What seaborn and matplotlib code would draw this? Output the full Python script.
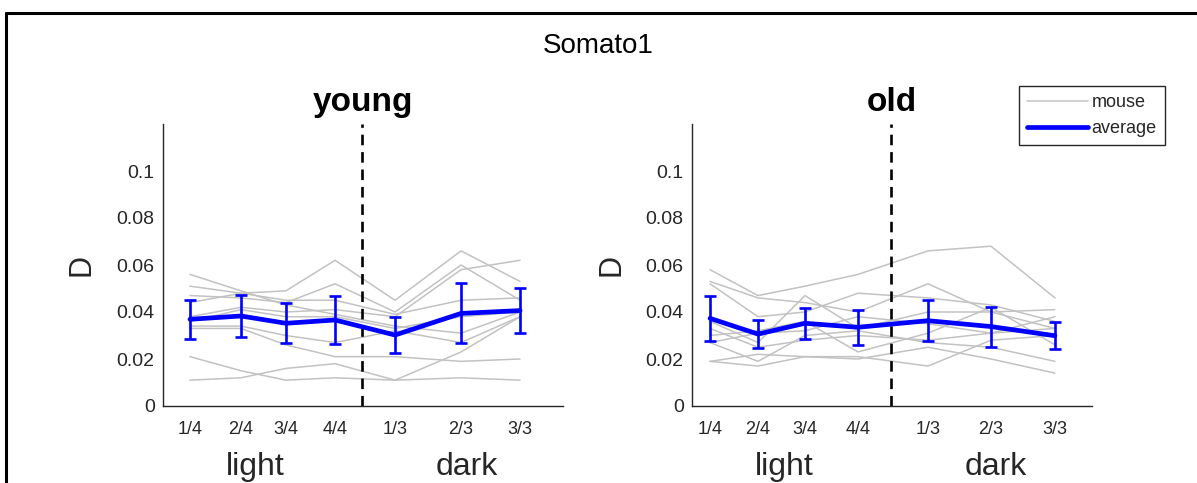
import numpy as np
import pandas as pd
import matplotlib
matplotlib.use("Agg")
import matplotlib.pyplot as plt
import seaborn as sns
from matplotlib.lines import Line2D

# ---------------- data ----------------
bin_labels = ["1/4", "2/4", "3/4", "4/4", "1/3", "2/3", "3/3"]
young_x = [1.66, 4.80, 7.56, 10.58, 14.27, 18.33, 21.96]
old_x = [1.11, 4.06, 6.95, 10.21, 14.51, 18.39, 22.32]
boundary = 12.24

young_mean = [0.0369, 0.0383, 0.0352, 0.0366, 0.0302, 0.0394, 0.0406]
young_err = [0.0082, 0.0088, 0.0086, 0.0102, 0.0078, 0.0128, 0.0097]
old_mean = [0.0373, 0.0306, 0.0352, 0.0335, 0.0363, 0.0338, 0.0299]
old_err = [0.0096, 0.0058, 0.0065, 0.0074, 0.0087, 0.0085, 0.0058]

young_mice = [
    [0.056, 0.049, 0.043, 0.039, 0.034, 0.031, 0.040],
    [0.051, 0.048, 0.049, 0.062, 0.045, 0.066, 0.053],
    [0.047, 0.046, 0.044, 0.052, 0.040, 0.060, 0.045],
    [0.044, 0.048, 0.045, 0.045, 0.039, 0.045, 0.046],
    [0.038, 0.042, 0.040, 0.041, 0.038, 0.058, 0.062],
    [0.036, 0.041, 0.038, 0.038, 0.033, 0.038, 0.040],
    [0.034, 0.034, 0.030, 0.027, 0.032, 0.027, 0.038],
    [0.033, 0.033, 0.026, 0.021, 0.021, 0.019, 0.020],
    [0.021, 0.015, 0.011, 0.012, 0.011, 0.012, 0.011],
    [0.011, 0.012, 0.016, 0.018, 0.011, 0.023, 0.038],
]
old_mice = [
    [0.058, 0.047, 0.051, 0.056, 0.066, 0.068, 0.046],
    [0.053, 0.046, 0.044, 0.040, 0.052, 0.040, 0.033],
    [0.052, 0.038, 0.040, 0.048, 0.046, 0.043, 0.036],
    [0.036, 0.027, 0.047, 0.033, 0.040, 0.040, 0.041],
    [0.030, 0.032, 0.036, 0.023, 0.031, 0.042, 0.026],
    [0.027, 0.031, 0.032, 0.038, 0.035, 0.031, 0.038],
    [0.027, 0.019, 0.030, 0.032, 0.027, 0.025, 0.019],
    [0.019, 0.017, 0.021, 0.021, 0.017, 0.028, 0.030],
    [0.019, 0.022, 0.021, 0.020, 0.025, 0.020, 0.014],
    [0.033, 0.025, 0.028, 0.030, 0.028, 0.031, 0.033],
]
yticks = [0, 0.02, 0.04, 0.06, 0.08, 0.1]
ytick_labels = ["0", "0.02", "0.04", "0.06", "0.08", "0.1"]

# ---------------- style ----------------
sns.set_theme(style="white")
plt.rcParams["font.family"] = ["Liberation Sans", "DejaVu Sans"]
dark = "#262626"
gray = "#c2c2c2"

W, H = 1197, 483
fig = plt.figure(figsize=(W / 100, H / 100), dpi=100)

ax_w = 400 / W
ax_h = 282 / H
ax_b = 77 / H
axes = [fig.add_axes([163 / W, ax_b, ax_w, ax_h]),
        fig.add_axes([692 / W, ax_b, ax_w, ax_h])]

panels = [("young", young_x, young_mice, young_mean, young_err),
          ("old", old_x, old_mice, old_mean, old_err)]

for ax, (title, xs, mice, mean, err) in zip(axes, panels):
    rows = []
    for i, m in enumerate(mice):
        for x, v in zip(xs, m):
            rows.append({"mouse": i, "x": x, "D": v})
    df = pd.DataFrame(rows)
    sns.lineplot(data=df, x="x", y="D", units="mouse", estimator=None,
                 color=gray, lw=1.1, ax=ax, legend=False, zorder=1)
    ax.axvline(boundary, color="black", lw=1.9, ls=(0, (4, 2.6)), zorder=2)
    sns.lineplot(x=xs, y=mean, color="blue", lw=3.4, ax=ax, zorder=3)
    ax.errorbar(xs, mean, yerr=err, fmt="none", ecolor="blue",
                elinewidth=1.9, capsize=4, capthick=1.9, zorder=4)

    ax.set_xlim(0, 24.6)
    ax.set_ylim(0, 0.12)
    ax.set_yticks(yticks, ytick_labels)
    ax.set_xticks(xs, bin_labels)
    ax.tick_params(axis="both", direction="in", length=3, width=0.8,
                   colors=dark, labelcolor=dark)
    ax.tick_params(axis="y", labelsize=14, pad=6)
    ax.tick_params(axis="x", labelsize=13, pad=11)
    for s in ["top", "right"]:
        ax.spines[s].set_visible(False)
    for s in ["left", "bottom"]:
        ax.spines[s].set_color(dark)
        ax.spines[s].set_linewidth(1.0)
    ax.set_xlabel("")
    ax.set_ylabel("D", fontsize=22, color=dark)
    ax.yaxis.set_label_coords(-0.165, 0.5)
    ax.text(0.5, (406 - 111) / 282, title, transform=ax.transAxes,
            ha="center", va="baseline", fontsize=24, fontweight="bold",
            color="black")
    trans = ax.get_xaxis_transform()
    ax.text(5.7, -0.215, "light", transform=trans, ha="center",
            va="center", fontsize=23, color=dark)
    ax.text(18.7, -0.215, "dark", transform=trans, ha="center",
            va="center", fontsize=23, color=dark)

fig.text(0.5, 1 - 46 / H, "Somato1", ha="center", va="center",
         fontsize=20, color="black")

handles = [Line2D([], [], color=gray, lw=1.1),
           Line2D([], [], color="blue", lw=3.4)]
leg = fig.legend(handles, ["mouse", "average"], loc="upper right",
                 bbox_to_anchor=(1165 / W, 1 - 86 / H), fontsize=13,
                 frameon=True, fancybox=False, edgecolor=dark,
                 framealpha=1, handlelength=3.4, handletextpad=0.2,
                 borderpad=0.45, labelspacing=0.5, borderaxespad=0)
leg.get_frame().set_linewidth(1.0)
for t in leg.get_texts():
    t.set_color(dark)

# figure frame (top and left edges)
fig.add_artist(Line2D([6 / W, 1], [1 - 13 / H, 1 - 13 / H],
                      transform=fig.transFigure, color="black", lw=2.2))
fig.add_artist(Line2D([6 / W, 6 / W], [0, 1 - 13 / H],
                      transform=fig.transFigure, color="black", lw=2.2))

fig.savefig("out.png", dpi=100, facecolor="white")
